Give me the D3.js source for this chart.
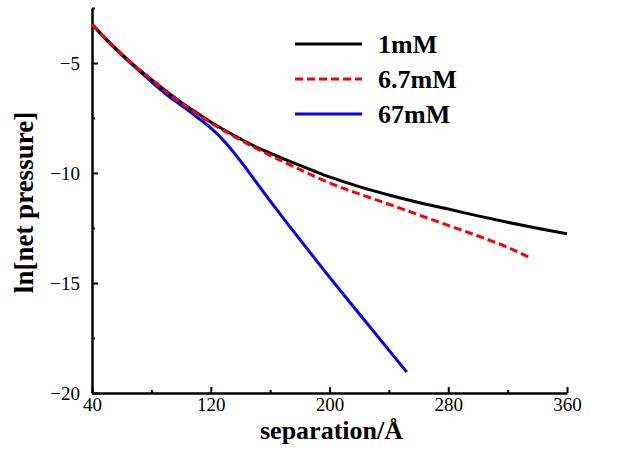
<!DOCTYPE html>
<html>
<head>
<meta charset="utf-8">
<script src="https://cdn.jsdelivr.net/npm/d3@7"></script>
<style>
  html, body { margin: 0; padding: 0; background: #fff; }
  svg { display: block; }
  svg text { font-family: "Liberation Serif", "Times New Roman", serif; }
</style>
</head>
<body>
<svg id="chart" width="618" height="456"></svg>
<script>
// Separation (Å) and ln[net pressure] for three salt concentrations
const x1mM = [40, 50, 60, 70, 80, 90, 100, 110, 120, 130, 140, 150, 160, 170, 180, 190, 200, 220, 240, 260, 280, 300, 320, 340, 360];
const y1mM = [-3.24, -3.95, -4.6, -5.2, -5.75, -6.28, -6.78, -7.24, -7.68, -8.08, -8.45, -8.8, -9.1, -9.38, -9.65, -9.92, -10.18, -10.62, -11.0, -11.34, -11.64, -11.95, -12.24, -12.51, -12.76];

const x6mM = [40, 50, 60, 70, 80, 90, 100, 110, 120, 130, 140, 150, 160, 170, 180, 190, 200, 220, 240, 260, 280, 300, 320, 335];
const y6mM = [-3.24, -3.95, -4.6, -5.2, -5.76, -6.31, -6.82, -7.28, -7.72, -8.12, -8.5, -8.86, -9.2, -9.52, -9.84, -10.15, -10.45, -10.95, -11.42, -11.9, -12.38, -12.86, -13.38, -13.85];

const x67mM = [40, 50, 60, 70, 80, 90, 100, 110, 120, 130, 140, 150, 160, 170, 180, 190, 200, 210, 220, 230, 240, 252];
const y67mM = [-3.24, -3.97, -4.63, -5.25, -5.85, -6.42, -6.92, -7.42, -7.95, -8.62, -9.45, -10.36, -11.27, -12.15, -13.02, -13.88, -14.73, -15.57, -16.4, -17.22, -18.05, -19.05];

const seriesNames = ["1mM", "6.7mM", "67mM"];
const seriesColors = ["#000000", "#ff0000", "#0000ff"];
const seriesDash = [null, "8,4", null];

const xTicks = [40, 120, 200, 280, 360];
const xMinor = [80, 160, 240, 320];
const yTicks = [-20, -15, -10, -5];
const yMinor = [-17.5, -12.5, -7.5, -2.5];

const svg = d3.select("#chart");
const x = d3.scaleLinear().domain([40, 360]).range([92, 567]);
const y = d3.scaleLinear().domain([-20, -2.5]).range([393, 8]);

// Axes with inward-facing ticks
const gx = svg.append("g").attr("transform", `translate(0,${y(-20)})`)
  .call(d3.axisBottom(x).tickValues(xTicks).tickSize(-6).tickSizeOuter(0).tickPadding(5).tickFormat(d3.format("d")));
svg.append("g").attr("transform", `translate(0,${y(-20)})`)
  .call(d3.axisBottom(x).tickValues(xMinor).tickSize(-3).tickSizeOuter(0).tickFormat(""))
  .select(".domain").remove();

const gy = svg.append("g").attr("transform", `translate(${x(40)},0)`)
  .call(d3.axisLeft(y).tickValues(yTicks).tickSize(-6).tickSizeOuter(0).tickPadding(12));
svg.append("g").attr("transform", `translate(${x(40)},0)`)
  .call(d3.axisLeft(y).tickValues(yMinor).tickSize(-3).tickSizeOuter(0).tickFormat(""))
  .select(".domain").remove();

svg.selectAll("g").attr("font-family", null).attr("font-size", null);
svg.selectAll(".domain").attr("stroke", "#000").attr("stroke-width", 2.5);
svg.selectAll(".tick line").attr("stroke", "#000").attr("stroke-width", 2);
svg.selectAll(".tick text")
  .attr("fill", "#000")
  .style("font-family", "'Liberation Serif', serif")
  .style("font-size", "19px");
gy.selectAll(".tick text").attr("x", -12);

// Curves
const line = d3.line().x(d => x(d[0])).y(d => y(d[1])).curve(d3.curveMonotoneX);
const series = [
  d3.zip(x1mM, y1mM),
  d3.zip(x6mM, y6mM),
  d3.zip(x67mM, y67mM)
];
// draw 67mM first so the upper curves sit on top where they overlap
[2, 0, 1].forEach(i => {
  svg.append("path").datum(series[i])
    .attr("d", line)
    .attr("fill", "none")
    .attr("stroke", seriesColors[i])
    .attr("stroke-width", 3)
    .attr("stroke-dasharray", seriesDash[i]);
});

// Legend
const legend = svg.append("g");
seriesNames.forEach((name, i) => {
  const ly = 44 + i * 35;
  legend.append("line")
    .attr("x1", 295).attr("x2", 362).attr("y1", ly).attr("y2", ly)
    .attr("stroke", seriesColors[i]).attr("stroke-width", 3)
    .attr("stroke-dasharray", seriesDash[i]);
  legend.append("text")
    .attr("x", 378).attr("y", ly).attr("dy", "0.35em")
    .style("font-size", "26px").style("font-weight", "bold")
    .text(name);
});

// Axis titles
svg.append("text")
  .attr("x", (x(40) + x(360)) / 2 + 2).attr("y", 439)
  .attr("text-anchor", "middle")
  .style("font-size", "26px").style("font-weight", "bold")
  .text("separation/Å");
svg.append("text")
  .attr("transform", `translate(33,${(y(-20) + y(-2.5)) / 2 + 2}) rotate(-90)`)
  .attr("text-anchor", "middle")
  .style("font-size", "27px").style("font-weight", "bold")
  .text("ln[net pressure]");
</script>
</body>
</html>
